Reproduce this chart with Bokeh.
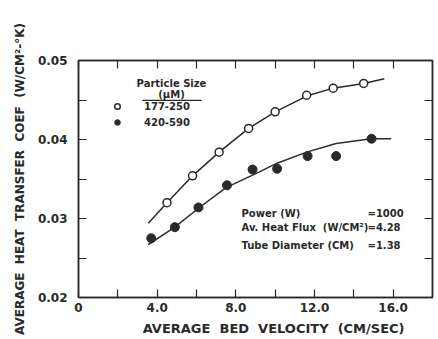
from bokeh.plotting import figure
from bokeh.models import (Range1d, FixedTicker, LinearAxis, Label, Legend, LegendItem,
                          CustomJSTickFormatter, Title)
from bokeh.embed import file_html
from bokeh.resources import INLINE

# ---- data ----
open_x = [4.5, 5.8, 7.15, 8.65, 10.0, 11.6, 12.95, 14.5]
open_y = [0.0320, 0.0354, 0.0384, 0.0414, 0.0435, 0.0456, 0.0465, 0.0471]
filled_x = [3.7, 4.9, 6.1, 7.55, 8.85, 10.1, 11.65, 13.1, 14.9]
filled_y = [0.0275, 0.0289, 0.0314, 0.0342, 0.0362, 0.0363, 0.0379, 0.0379, 0.0401]

open_fit_x = [3.55, 4.5, 5.8, 7.15, 8.65, 10.0, 11.6, 12.95, 14.5, 15.55]
open_fit_y = [0.0294, 0.0320, 0.0354, 0.0384, 0.0414, 0.0435, 0.0455, 0.0465, 0.0471, 0.0477]
filled_fit_x = [3.55, 4.9, 6.1, 7.5, 9.2, 10.1, 11.6, 13.1, 14.9, 15.9]
filled_fit_y = [0.0267, 0.0289, 0.0313, 0.0339, 0.0359, 0.0370, 0.0384, 0.0395, 0.0401, 0.0401]

series_labels = ["177-250", "420-590"]
x_major = [0, 4, 8, 12, 16]
x_minor = [2, 6, 10, 14]
y_major = [0.02, 0.03, 0.04, 0.05]
y_minor = [0.025, 0.035, 0.045]
info_names = ["Power (W)", "Av. Heat Flux\u00a0 (W/CM\u00b2)", "Tube Diameter (CM)"]
info_values = ["=1000", "=4.28", "=1.38"]
x_title = "AVERAGE \u00a0BED \u00a0VELOCITY \u00a0(CM/SEC)"
y_title = "AVERAGE \u00a0HEAT \u00a0TRANSFER \u00a0COEF \u00a0(W/CM\u00b2-\u00b0K)"

# ---- layout ----
W, H = 438, 338
FL, FR, FT, FB = 78, 432, 60, 298
X0, X1, Y0, Y1 = 0, 18, 0.02, 0.05
INK = "#2a2a2a"
FONT = "DejaVu Sans"
NB = "\u00a0"


def dx(cx):
    return X0 + (cx - FL) * (X1 - X0) / (FR - FL)


def dy(cy):
    return Y0 + (FB - cy) * (Y1 - Y0) / (FB - FT)


p = figure(width=W, height=H, output_backend="svg", toolbar_location=None,
           x_range=Range1d(X0, X1), y_range=Range1d(Y0, Y1),
           min_border_left=FL, min_border_right=W - FR,
           min_border_top=FT, min_border_bottom=H - FB)
p.grid.visible = False
p.outline_line_color = INK
p.outline_line_width = 1.5
p.background_fill_color = "white"
p.border_fill_color = "white"

xa = p.xaxis[0]
xa.ticker = FixedTicker(ticks=x_major, minor_ticks=x_minor)
xa.formatter = CustomJSTickFormatter(code="return tick == 0 ? '0' : tick.toFixed(1);")
ya = p.yaxis[0]
ya.ticker = FixedTicker(ticks=y_major, minor_ticks=y_minor)
ya.formatter = CustomJSTickFormatter(code="return tick.toFixed(2);")
for ax in (xa, ya):
    ax.major_tick_in = 8
    ax.major_tick_out = 0
    ax.minor_tick_in = 8
    ax.minor_tick_out = 0
    ax.axis_line_color = INK
    ax.axis_line_width = 1.5
    ax.major_tick_line_color = INK
    ax.minor_tick_line_color = INK
    ax.major_tick_line_width = 1.2
    ax.minor_tick_line_width = 1.2
    ax.major_label_text_font = FONT
    ax.major_label_text_font_style = "bold"
    ax.major_label_text_font_size = "12px"
    ax.major_label_text_color = INK
    ax.axis_label_text_font = FONT
    ax.axis_label_text_font_style = "bold"
    ax.axis_label_text_color = INK
xa.major_label_standoff = 5
ya.major_label_standoff = 11
xa.axis_label = NB * 8 + x_title
xa.axis_label_text_font_size = "13px"
xa.axis_label_standoff = 6

p.add_layout(Title(text=y_title, align="center", offset=24, standoff=15,
                   text_font=FONT, text_font_size="12px", text_font_style="bold",
                   text_color=INK), "left")

blank = "return '';"
top = LinearAxis(ticker=FixedTicker(ticks=x_major + x_minor, minor_ticks=[]),
                 formatter=CustomJSTickFormatter(code=blank),
                 major_tick_in=8, major_tick_out=0, axis_line_color=INK, axis_line_width=1.5,
                 major_tick_line_color=INK, major_tick_line_width=1.2, major_label_standoff=0)
right = LinearAxis(ticker=FixedTicker(ticks=y_major + y_minor, minor_ticks=[]),
                   formatter=CustomJSTickFormatter(code=blank),
                   major_tick_in=8, major_tick_out=0, axis_line_color=INK, axis_line_width=1.5,
                   major_tick_line_color=INK, major_tick_line_width=1.2, major_label_standoff=0)
p.add_layout(top, "above")
p.add_layout(right, "right")

# curves and points
p.line(open_fit_x, open_fit_y, line_color=INK, line_width=1.5)
p.line(filled_fit_x, filled_fit_y, line_color=INK, line_width=1.5)
r_open = p.scatter(open_x, open_y, marker="circle", size=8, fill_color="white",
                   line_color=INK, line_width=1.5)
r_fill = p.scatter(filled_x, filled_y, marker="circle", size=9, fill_color=INK,
                   line_color=INK, line_width=1)

legend = Legend(items=[LegendItem(label=series_labels[0], renderers=[r_open]),
                       LegendItem(label=series_labels[1], renderers=[r_fill])],
                location=(32, 167), padding=0, margin=0, spacing=0,
                glyph_width=14, glyph_height=16, label_height=16, label_standoff=20,
                background_fill_alpha=0, border_line_alpha=0,
                label_text_font=FONT, label_text_font_size="10px",
                label_text_font_style="bold", label_text_color=INK)
p.add_layout(legend, "center")


def lab(text, cx, cy, size="10px", align="left", angle=0.0, style="bold"):
    p.add_layout(Label(x=dx(cx), y=dy(cy), text=text, text_font=FONT,
                       text_font_size=size, text_font_style=style, text_color=INK,
                       text_align=align, text_baseline="middle", angle=angle))


lab("Particle Size", 171, 83, align="center")
lab("(\u00b5M)", 171, 94, align="center")
p.segment(x0=[dx(142)], y0=[dy(100)], x1=[dx(201)], y1=[dy(100)], line_color=INK, line_width=1.2)

for i, (n, v) in enumerate(zip(info_names, info_values)):
    cy = [214, 228, 246][i]
    lab(n, 241, cy)
    lab(v, 367, cy)

open("out.html", "w").write(file_html(p, INLINE))
